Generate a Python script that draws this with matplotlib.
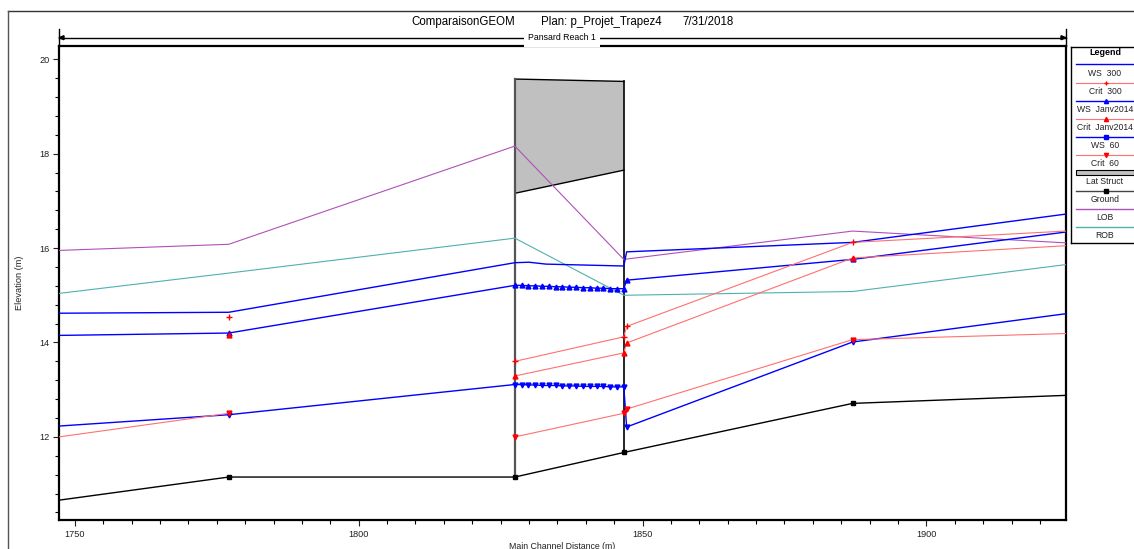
import numpy as np
import matplotlib.pyplot as plt
from matplotlib.patches import Rectangle, Polygon

plt.rcParams['font.family'] = ['Liberation Sans', 'DejaVu Sans']

nan = np.nan

# stations (main channel distance, m)
struct_x = [1827.5, 1828.7, 1829.9, 1831.1, 1832.3, 1833.5, 1834.7, 1835.9, 1837.1,
            1838.3, 1839.5, 1840.7, 1841.9, 1843.1, 1844.3, 1845.5, 1846.7]

ws300_x = [1747.2, 1777.1, 1827.5, 1830.0, 1833.0, 1846.7, 1847.2, 1887.0, 1924.6]
ws300_y = [14.62, 14.64, 15.69, 15.70, 15.66, 15.62, 15.92, 16.12, 16.72]

wsjan_x = [1747.2, 1777.1] + struct_x + [1847.2, 1887.0, 1924.6]
wsjan_y = [14.15, 14.20,
           15.21, 15.21, 15.20, 15.20, 15.19, 15.19, 15.18, 15.18, 15.17,
           15.17, 15.16, 15.16, 15.15, 15.15, 15.14, 15.14, 15.14,
           15.32, 15.76, 16.34]

ws60_x = [1747.2, 1777.1] + struct_x + [1847.2, 1887.0, 1924.6]
ws60_y = [12.23, 12.47,
          13.11, 13.11, 13.10, 13.10, 13.09, 13.09, 13.09, 13.08, 13.08,
          13.08, 13.07, 13.07, 13.07, 13.07, 13.06, 13.06, 13.06,
          12.21, 14.01, 14.61]

crit300_x = [1777.1, nan, 1827.5, 1846.7, 1847.2, 1887.0, 1924.6]
crit300_y = [14.54, nan, 13.60, 14.12, 14.34, 16.12, 16.36]

critjan_x = [1777.1, nan, 1827.5, 1846.7, 1847.2, 1887.0, 1924.6]
critjan_y = [14.15, nan, 13.29, 13.78, 13.99, 15.79, 16.05]

crit60_x = [1747.2, 1777.1, nan, 1827.5, 1846.7, 1847.2, 1887.0, 1924.6]
crit60_y = [12.00, 12.50, nan, 12.00, 12.50, 12.59, 14.06, 14.19]

ground_x = [1747.2, 1777.1, 1827.5, 1846.7, 1887.0, 1924.6]
ground_y = [10.66, 11.15, 11.15, 11.67, 12.71, 12.88]

bank_x = [1747.2, 1777.1, 1827.5, 1846.7, 1887.0, 1924.6]
lob_y = [15.95, 16.08, 18.16, 15.76, 16.36, 16.11]
rob_y = [15.04, 15.47, 16.21, 15.00, 15.08, 15.65]

lat_x = [1827.5, 1846.7]
lat_top = [19.58, 19.53]
lat_bot = [17.16, 17.65]

W, H = 1134, 549
fig = plt.figure(figsize=(W / 100, H / 100), dpi=100)


def fx(p):
    return p / W


def fy(p):
    return 1 - p / H


ax = fig.add_axes([fx(59), fy(520), fx(1066) - fx(59), fy(46) - fy(520)])

blue = '#0000ff'
red_line = '#ff7070'
red = '#ff0000'

# lateral structure
ax.add_patch(Polygon([(lat_x[0], lat_top[0]), (lat_x[1], lat_top[1]),
                      (lat_x[1], lat_bot[1]), (lat_x[0], lat_bot[0])],
                     closed=True, facecolor='#c0c0c0', edgecolor='none', zorder=1))
ax.plot(lat_x, lat_top, color='black', lw=1.0, zorder=2)
ax.plot(lat_x, lat_bot, color='black', lw=1.0, zorder=2)
ax.plot([lat_x[0], lat_x[0]], [lat_top[0], ground_y[2]], color='#555555', lw=1.6, zorder=2)
ax.plot([lat_x[1], lat_x[1]], [lat_top[1], ground_y[3]], color='black', lw=1.2, zorder=2)

# banks and ground
ax.plot(bank_x, lob_y, color='#b050b8', lw=0.8, zorder=3)
ax.plot(bank_x, rob_y, color='#50b0b0', lw=0.8, zorder=3)
ax.plot(ground_x, ground_y, color='black', lw=1.0, marker='s', ms=3.5,
        markevery=[1, 2, 3, 4], zorder=4)

# water surfaces
ax.plot(ws300_x, ws300_y, color=blue, lw=1.0, zorder=5)
ax.plot(wsjan_x, wsjan_y, color=blue, lw=1.0, marker='^', ms=3.5, mfc=blue, mec=blue,
        markevery=list(range(1, len(wsjan_x) - 1)), zorder=5)
ax.plot(ws60_x, ws60_y, color=blue, lw=1.0, marker='v', ms=3.5, mfc=blue, mec=blue,
        markevery=list(range(1, len(ws60_x) - 1)), zorder=5)

# critical depths
ax.plot(crit300_x, crit300_y, color=red_line, lw=0.8, marker='+', ms=4, mec=red, mew=1.0,
        markevery=[0, 2, 3, 4, 5], zorder=6)
ax.plot(critjan_x, critjan_y, color=red_line, lw=0.8, marker='^', ms=3.5, mfc=red, mec=red,
        markevery=[0, 2, 3, 4, 5], zorder=6)
ax.plot(crit60_x, crit60_y, color=red_line, lw=0.8, marker='v', ms=3.5, mfc=red, mec=red,
        markevery=[1, 3, 4, 5, 6], zorder=6)

ax.set_xlim(1747.2, 1924.6)
ax.set_ylim(10.24, 20.28)
ax.set_xticks([1750, 1800, 1850, 1900])
ax.set_xticks(np.arange(1750, 1925, 5), minor=True)
ax.set_yticks([12, 14, 16, 18, 20])
ax.set_yticks(np.arange(10.4, 20.3, 0.4), minor=True)
ax.tick_params(which='major', length=4, width=0.8, labelsize=6.6, pad=3, colors='#222222')
ax.tick_params(which='minor', length=3, width=0.8)
for s in ax.spines.values():
    s.set_linewidth(1.6)

# header
fig.text(fx(411), fy(22), 'ComparaisonGEOM', fontsize=8.3, va='center', ha='left')
fig.text(fx(541), fy(22), 'Plan: p_Projet_Trapez4', fontsize=8.3, va='center', ha='left')
fig.text(fx(682), fy(22), '7/31/2018', fontsize=8.3, va='center', ha='left')

fig.add_artist(plt.Line2D([fx(8), fx(1134)], [fy(11), fy(11)], color='#333333', lw=1.0))
fig.add_artist(plt.Line2D([fx(8), fx(8)], [fy(11), fy(549)], color='#555555', lw=1.0))

# reach line
fig.add_artist(plt.Line2D([fx(59), fx(1066)], [fy(37.7), fy(37.7)], color='black', lw=1.0))
fig.add_artist(plt.Line2D([fx(59), fx(59)], [fy(29), fy(46)], color='black', lw=1.0))
fig.add_artist(plt.Line2D([fx(1066), fx(1066)], [fy(29), fy(46)], color='black', lw=1.0))
fig.add_artist(Polygon([(fx(59), fy(37.7)), (fx(64), fy(35.7)), (fx(64), fy(39.7))],
                       closed=True, color='black', transform=fig.transFigure))
fig.add_artist(Polygon([(fx(1066), fy(37.7)), (fx(1061), fy(35.7)), (fx(1061), fy(39.7))],
                       closed=True, color='black', transform=fig.transFigure))
fig.text(fx(562), fy(38), 'Pansard Reach 1', fontsize=6.3, ha='center', va='center',
         bbox=dict(facecolor='white', edgecolor='none', pad=3))

fig.text(fx(19), fy(283), 'Elevation (m)', fontsize=6.6, rotation=90, ha='center', va='center',
         color='#222222')
fig.text(fx(562), fy(542), 'Main Channel Distance (m)', fontsize=6.3, ha='center', va='top',
         color='#222222')

# legend box
lax = fig.add_axes([fx(1071), fy(243.3), 72 / W, (243.3 - 46.7) / H])
lax.set_xlim(1071, 1143)
lax.set_ylim(243.3, 46.7)
lax.set_xticks([])
lax.set_yticks([])
for s in lax.spines.values():
    s.set_linewidth(1.0)

leg_labels = ['WS  300', 'Crit  300', 'WS  Janv2014', 'Crit  Janv2014', 'WS  60', 'Crit  60',
              'Lat Struct', 'Ground', 'LOB', 'ROB']
leg_line_y = [64.3, 82.7, 101, 119, 137, 155, 172.7, 191, 209.3, 227.3]
leg_text_y = [73.7, 91.3, 110, 128, 146, 164, 182, 199.7, 218, 236]
leg_styles = [
    dict(color=blue, lw=1.0, marker=None),
    dict(color=red_line, lw=0.8, marker='+', mec=red, ms=3.5, mew=1.0),
    dict(color=blue, lw=1.0, marker='^', mfc=blue, mec=blue, ms=3),
    dict(color=red_line, lw=0.8, marker='^', mfc=red, mec=red, ms=3),
    dict(color=blue, lw=1.0, marker='s', mfc=blue, mec=blue, ms=2.5),
    dict(color=red_line, lw=0.8, marker='v', mfc=red, mec=red, ms=3),
    None,
    dict(color='#444444', lw=1.0, marker='s', mfc='black', mec='black', ms=3),
    dict(color='#b050b8', lw=1.0, marker=None),
    dict(color='#50b0b0', lw=1.0, marker=None),
]
lax.text(1105, 52.7, 'Legend', fontsize=6.4, fontweight='bold', ha='center', va='center')
for lab, ly, ty, st in zip(leg_labels, leg_line_y, leg_text_y, leg_styles):
    if st is None:
        lax.add_patch(Rectangle((1076, ly - 2.2), 58, 4.4, facecolor='#c0c0c0',
                                edgecolor='black', lw=0.8))
    else:
        lax.plot([1076, 1106, 1143], [ly, ly, ly], markevery=[1], **st)
    lax.text(1105, ty, lab, fontsize=6.2, ha='center', va='center', color='#222222')

fig.savefig('out.png', dpi=100)
